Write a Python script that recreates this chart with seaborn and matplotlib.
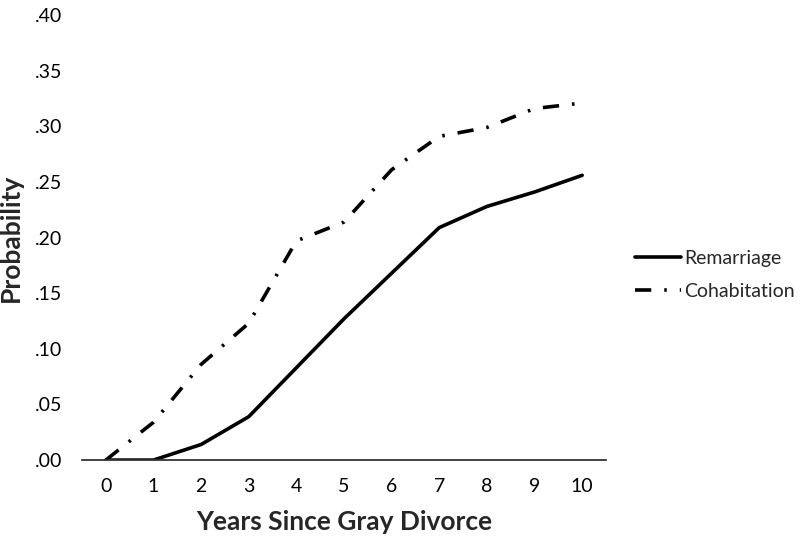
import matplotlib
matplotlib.use("Agg")
import matplotlib.pyplot as plt
from matplotlib.ticker import FuncFormatter
import seaborn as sns
import pandas as pd

years = [0, 1, 2, 3, 4, 5, 6, 7, 8, 9, 10]
remarriage = [0.0, 0.0, 0.014, 0.039, 0.083, 0.127, 0.168, 0.209, 0.228, 0.241, 0.256]
cohabitation = [0.0, 0.034, 0.086, 0.123, 0.197, 0.214, 0.261, 0.291, 0.299, 0.316, 0.321]
series_names = ["Remarriage", "Cohabitation"]
y_ticks = [0.0, 0.05, 0.10, 0.15, 0.20, 0.25, 0.30, 0.35, 0.40]

df = pd.DataFrame({
    "Year": years * 2,
    "Probability": remarriage + cohabitation,
    "Series": [series_names[0]] * len(years) + [series_names[1]] * len(years),
})

sns.set_theme(style="white")
plt.rcParams["font.family"] = ["Lato", "DejaVu Sans"]

fig = plt.figure(figsize=(8, 5.4), dpi=100)
ax = fig.add_axes([0.1025, 0.148, 0.655, 0.824])

sns.lineplot(data=df, x="Year", y="Probability", style="Series",
             style_order=series_names,
             dashes={"Remarriage": "", "Cohabitation": (4.5, 3.6, 0.7, 3.6)},
             color="black", linewidth=2.6, ax=ax, legend=True)

ax.set_xlim(-0.5, 10.5)
ax.set_ylim(0, 0.40)
ax.set_xticks(years)
ax.set_yticks(y_ticks)
ax.yaxis.set_major_formatter(FuncFormatter(lambda v, p: ("%.2f" % v)[1:] if v < 1 else "%.2f" % v))
ax.tick_params(axis="x", length=0, pad=13, labelsize=14, colors="black")
ax.tick_params(axis="y", length=0, pad=14, labelsize=14, colors="black")

for s in ["top", "right", "left"]:
    ax.spines[s].set_visible(False)
ax.spines["bottom"].set_color("#333333")
ax.spines["bottom"].set_linewidth(1.3)

ax.set_xlabel("Years Since Gray Divorce", fontsize=19, fontweight="bold", labelpad=11)
ax.set_ylabel("Probability", fontsize=19, fontweight="bold", labelpad=9)

handles, labels = ax.get_legend_handles_labels()
ax.legend(handles, labels, loc="center left", bbox_to_anchor=(1.055, 0.416),
          frameon=False, fontsize=14, handlelength=2.4, handletextpad=0.15,
          labelspacing=0.85, borderpad=0, borderaxespad=0)

fig.savefig("out.png", dpi=100)
